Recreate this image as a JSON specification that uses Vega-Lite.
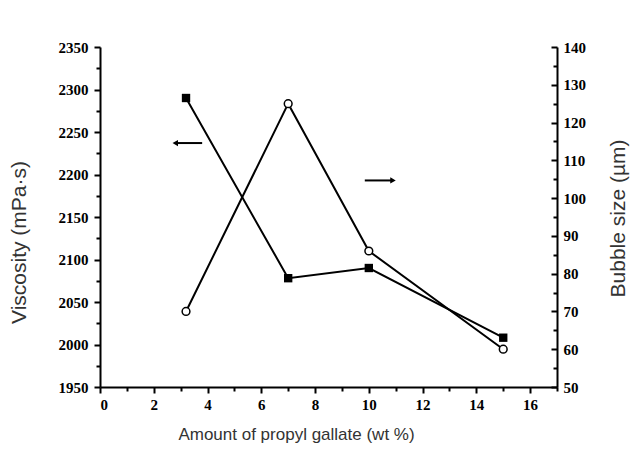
{
  "$schema": "https://vega.github.io/schema/vega-lite/v6.json",
  "width": 457,
  "height": 340,
  "autosize": {"type": "none"},
  "padding": {"left": 100, "top": 47, "right": 80, "bottom": 63},
  "config": {
    "view": {"stroke": null},
    "axis": {
      "grid": false,
      "domainColor": "#000",
      "domainWidth": 2,
      "tickColor": "#000",
      "tickWidth": 2,
      "labelFont": "Liberation Serif",
      "labelFontWeight": "bold",
      "labelFontSize": 15,
      "labelColor": "#000",
      "format": "d",
      "titleFont": "Liberation Sans",
      "titleFontWeight": "normal",
      "titleFontSize": 17,
      "titleColor": "#333"
    }
  },
  "datasets": {
    "visc": [
      {"pg": 3.2, "viscosity": 2290},
      {"pg": 7.0, "viscosity": 2078},
      {"pg": 10.0, "viscosity": 2090},
      {"pg": 15.0, "viscosity": 2008}
    ],
    "bubble": [
      {"pg": 3.2, "size": 70},
      {"pg": 7.0, "size": 125},
      {"pg": 10.0, "size": 86},
      {"pg": 15.0, "size": 60}
    ],
    "arrows": [
      {"series": "viscosity", "x0": 2.8, "x1": 3.8, "tip": 2.8, "y": 2237, "shape": "triangle-left"},
      {"series": "bubble", "x0": 9.85, "x1": 10.9, "tip": 10.9, "y": 2193, "shape": "triangle-right"}
    ]
  },
  "layer": [
    {
      "data": {"name": "visc"},
      "layer": [
        {
          "mark": {"type": "line", "color": "#000", "strokeWidth": 2},
          "encoding": {
            "x": {
              "field": "pg", "type": "quantitative",
              "scale": {"domain": [0, 17], "nice": false, "zero": false},
              "axis": {
                "orient": "bottom",
                "values": [0, 2, 4, 6, 8, 10, 12, 14, 16],
                "tickSize": 6,
                "labelPadding": 4,
                "title": "Amount of propyl gallate (wt %)",
                "titlePadding": 14,
                "titleX": 196
              }
            },
            "y": {
              "field": "viscosity", "type": "quantitative",
              "scale": {"domain": [1950, 2350], "nice": false, "zero": false},
              "axis": {
                "orient": "left",
                "values": [1950, 2000, 2050, 2100, 2150, 2200, 2250, 2300, 2350],
                "tickSize": 6,
                "labelPadding": 6,
                "title": "Viscosity (mPa·s)",
                "titleFontSize": 21,
                "titlePadding": 29,
                "titleY": 195
              }
            }
          }
        },
        {
          "mark": {"type": "square", "filled": true, "color": "#000", "size": 70, "opacity": 1},
          "encoding": {
            "x": {
              "field": "pg", "type": "quantitative",
              "axis": {
                "orient": "bottom",
                "values": [1, 3, 5, 7, 9, 11, 13, 15, 17],
                "tickSize": 4,
                "labels": false,
                "domain": false,
                "title": null
              }
            },
            "y": {
              "field": "viscosity", "type": "quantitative",
              "axis": {
                "orient": "left",
                "values": [1975, 2025, 2075, 2125, 2175, 2225, 2275, 2325],
                "tickSize": 4,
                "labels": false,
                "domain": false,
                "title": null
              }
            }
          }
        },
        {
          "data": {"name": "arrows"},
          "mark": {"type": "rule", "color": "#000", "strokeWidth": 2},
          "encoding": {
            "x": {"field": "x0", "type": "quantitative", "axis": null},
            "x2": {"field": "x1"},
            "y": {"field": "y", "type": "quantitative", "axis": null}
          }
        },
        {
          "data": {"name": "arrows"},
          "mark": {"type": "point", "filled": true, "color": "#000", "size": 40, "opacity": 1},
          "encoding": {
            "x": {"field": "tip", "type": "quantitative", "axis": null},
            "y": {"field": "y", "type": "quantitative", "axis": null},
            "shape": {"field": "shape", "type": "nominal", "scale": null, "legend": null}
          }
        }
      ],
      "resolve": {"axis": {"x": "independent", "y": "independent"}}
    },
    {
      "data": {"name": "bubble"},
      "layer": [
        {
          "mark": {"type": "line", "color": "#000", "strokeWidth": 2},
          "encoding": {
            "x": {"field": "pg", "type": "quantitative", "axis": null},
            "y": {
              "field": "size", "type": "quantitative",
              "scale": {"domain": [50, 140], "nice": false, "zero": false},
              "axis": {
                "orient": "right",
                "values": [50, 60, 70, 80, 90, 100, 110, 120, 130, 140],
                "tickSize": -6,
                "labelPadding": 12,
                "title": "Bubble size (µm)",
                "titleFontSize": 21,
                "titleAngle": 270,
                "titlePadding": 43,
                "titleY": 171
              }
            }
          }
        },
        {
          "mark": {"type": "circle", "filled": true, "color": "#fff", "stroke": "#000", "strokeWidth": 1.5, "size": 60, "opacity": 1},
          "encoding": {
            "x": {"field": "pg", "type": "quantitative", "axis": null},
            "y": {
              "field": "size", "type": "quantitative",
              "axis": {
                "orient": "right",
                "values": [55, 65, 75, 85, 95, 105, 115, 125, 135],
                "tickSize": -4,
                "labels": false,
                "domain": false,
                "title": null
              }
            }
          }
        }
      ],
      "resolve": {"axis": {"y": "independent"}}
    }
  ],
  "resolve": {"scale": {"y": "independent"}}
}
